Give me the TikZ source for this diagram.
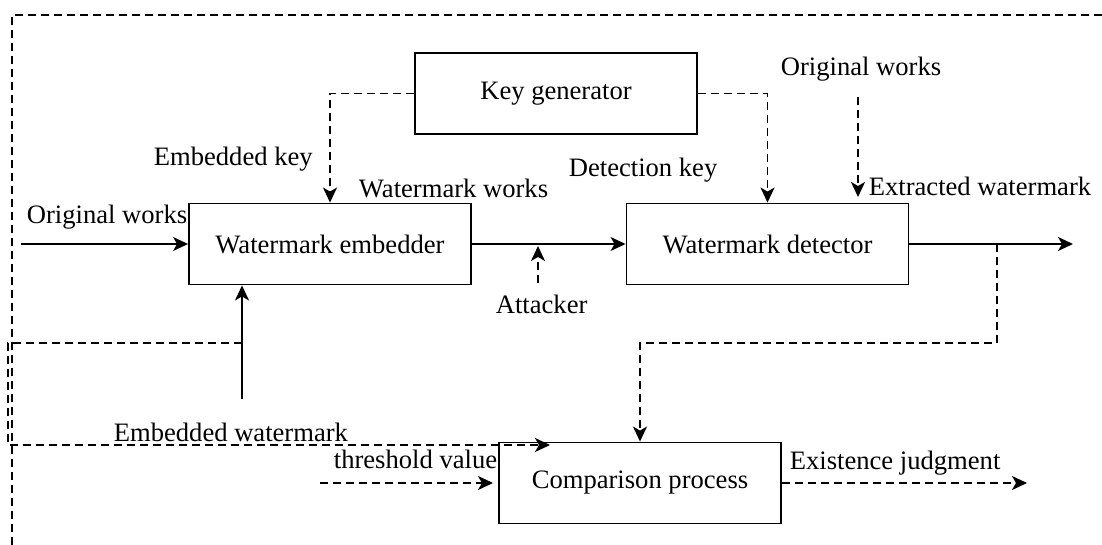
\documentclass[tikz,border=0pt]{standalone}
\usepackage{fontspec}
\setmainfont{Liberation Serif}
\usetikzlibrary{arrows.meta}
\begin{document}
\begin{tikzpicture}[x=0.5pt,y=-0.5pt,
  font=\fontsize{13.3}{16}\selectfont,
  every path/.style={line width=0.85pt},
  box/.style={draw,line width=0.95pt,minimum width=141pt,minimum height=40.5pt,inner sep=0pt},
  lbl/.style={inner sep=0pt,anchor=base west},
  dsh/.style={dash pattern=on 4pt off 2.5pt},
  arr/.style={-{Stealth[length=7.5pt,width=7pt,inset=2pt]}}]
\useasboundingbox (0,0) rectangle (1102,545);
% boxes
\node[box] (kg) at (556,93.5) {Key generator};
\node[box] (emb) at (330,244) {Watermark embedder};
\node[box] (det) at (767.5,244) {Watermark detector};
\node[box] (cmp) at (640,483) {Comparison process};
% labels
\node[lbl] (lek) at (153,166) {Embedded key};
\node[lbl,anchor=base east] (lww) at (549,198) {Watermark works};
\node[lbl] (ldk) at (568,177) {Detection key};
\node[lbl] (low2) at (780,76) {Original works};
\node[lbl] (lex) at (868,196) {Extracted watermark};
\node[lbl] (low1) at (26,224) {Original works};
\node[lbl] (lat) at (495,314) {Attacker};
\node[lbl] (lew) at (113,441) {Embedded watermark};
\node[lbl] (lth) at (333,468) {threshold value};
\node[lbl] (lej) at (789,469) {Existence judgment};
% coordinates
\coordinate (frTR) at (1102,15);
\coordinate (frTL) at (12,15);
\coordinate (frBL) at (12,545);
\coordinate (owA) at (858,97);
\coordinate (owB) at (858,197);
\coordinate (inL) at (21,244);
\coordinate (atA) at (538,283);
\coordinate (atB) at (538,246);
\coordinate (outR) at (1073,244);
\coordinate (exA) at (997,244);
\coordinate (exB) at (997,343);
\coordinate (ewA) at (242,399);
\coordinate (ewB) at (242,343);
\coordinate (ewC) at (8,343);
\coordinate (ewD) at (8,445);
\coordinate (ewE) at (550,445);
\coordinate (thA) at (320,483);
\coordinate (thB) at (493,483);
\coordinate (ejB) at (1027,483);
% frame
\draw[dsh] (frTR) -- (frTL) -- (frBL);
% connectors
\draw[dsh,arr] (kg.west) -| (emb.north);
\draw[dsh,arr] (kg.east) -| (det.north);
\draw[dsh,arr] (owA) -- (owB);
\draw[arr] (inL) -- (emb.west);
\draw[arr] (emb.east) -- (det.west);
\draw[dsh,arr] (atA) -- (atB);
\draw[arr] (det.east) -- (outR);
\draw[dsh,arr] (exA) -- (exB) -| (cmp.north);
\draw[arr] (ewA) -- (ewA |- emb.south);
\draw[dsh,arr] (ewB) -- (ewC) -- (ewD) -- (ewE);
\draw[dsh,arr] (thA) -- (thB);
\draw[dsh,arr] (cmp.east) -- (ejB);
\end{tikzpicture}
\end{document}
